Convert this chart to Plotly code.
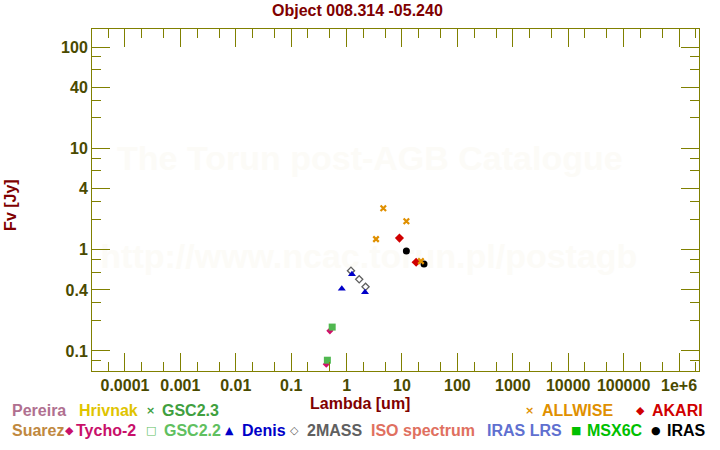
import plotly.graph_objects as go

title_text = "Object 008.314 -05.240"

# Photometry (wavelength in um, flux in Jy)
tycho_wl = [0.43, 0.50]
tycho_f = [0.074, 0.158]
gsc22_wl = [0.45, 0.55]
gsc22_f = [0.081, 0.172]
mass2_wl = [1.2, 1.69, 2.2]
mass2_f = [0.62, 0.51, 0.43]
denis_wl = [0.82, 1.25, 2.15]
denis_f = [0.41, 0.57, 0.38]
iras_wl = [12, 25]
iras_f = [0.97, 0.72]
akari_wl = [9, 18]
akari_f = [1.30, 0.75]
allwise_wl = [3.4, 4.6, 12, 22]
allwise_f = [1.27, 2.56, 1.91, 0.77]

x_major = [1e-4, 1e-3, 1e-2, 1e-1, 1, 10, 100, 1e3, 1e4, 1e5, 1e6]
x_major_text = ["0.0001", "0.001", "0.01", "0.1", "1", "10", "100", "1000",
                "10000", "100000", "1e+6"]
x_minor = [m * 10.0 ** k for k in range(-5, 7) for m in (2, 5)]
y_major = [0.1, 0.4, 1, 4, 10, 40, 100]
y_major_text = ["0.1", "0.4", "1", "4", "10", "40", "100"]
y_minor = [m * 10.0 ** k for k in range(-2, 3) for m in (2, 3, 6, 8)]

watermark_lines = ["The Torun post-AGB Catalogue", "http://www.ncac.torun.pl/postagb"]

FONT = "Liberation Sans, Arial, sans-serif"
AXC = "#808000"
TICKC = "#4a4a00"
DARKRED = "#800000"

XR = [-4.595, 6.361]
YR = [-1.198, 2.178]

# plot area in pixels
L, R, T, B = 92, 699.3, 29.3, 371
W, H = 720, 450


def P(px, py):
    return (px - L) / (R - L), (B - py) / (B - T)


def D(px, py):
    fx, fy = P(px, py)
    return (10 ** (XR[0] + fx * (XR[1] - XR[0])),
            10 ** (YR[0] + fy * (YR[1] - YR[0])))


fig = go.Figure()

# watermark drawn underneath the data
wm_pos = [D(370, 162), D(369, 260)]
fig.add_trace(go.Scatter(
    x=[p[0] for p in wm_pos], y=[p[1] for p in wm_pos], mode="text",
    text=watermark_lines, textposition="middle center",
    textfont=dict(family=FONT, size=34, color="#fcfbf7", weight="bold"),
    showlegend=False, hoverinfo="skip", cliponaxis=False))

series = [
    (tycho_wl, tycho_f, dict(symbol="diamond", size=5.5, color="#d0106a")),
    (gsc22_wl, gsc22_f, dict(symbol="square", size=7, color="#50b850")),
    (mass2_wl, mass2_f, dict(symbol="diamond-open", size=5.5, color="#606060",
                             line=dict(width=1.3, color="#606060"))),
    (denis_wl, denis_f, dict(symbol="triangle-up", size=7, color="#0000c8")),
    (iras_wl, iras_f, dict(symbol="circle", size=7, color="#000000")),
    (akari_wl, akari_f, dict(symbol="diamond", size=7, color="#d00000")),
    (allwise_wl, allwise_f, dict(symbol="x-thin-open", size=5.5, color="#e09000",
                                 line=dict(width=2.2, color="#e09000"))),
]
for xs, ys, mk in series:
    fig.add_trace(go.Scatter(x=xs, y=ys, mode="markers", marker=mk,
                             showlegend=False, hoverinfo="skip"))

ann = []
# title and axis titles
x, y = P(358, 11)
ann.append(dict(x=x, y=y, xref="paper", yref="paper", text=title_text,
                showarrow=False, xanchor="center", yanchor="middle",
                font=dict(family=FONT, size=16, color=DARKRED, weight="bold")))
x, y = P(360, 403)
ann.append(dict(x=x, y=y, xref="paper", yref="paper", text="Lambda [um]",
                showarrow=False, xanchor="center", yanchor="middle",
                font=dict(family=FONT, size=16, color=DARKRED, weight="bold")))
x, y = P(11, 205)
ann.append(dict(x=x, y=y, xref="paper", yref="paper", text="Fv [Jy]",
                showarrow=False, xanchor="center", yanchor="middle", textangle=-90,
                font=dict(family=FONT, size=16, color=DARKRED, weight="bold")))

# legend: (symbol, symbol_x, label, label_x, y, color)
legend_items = [
    ("", 0, "Pereira", 10, 410, "#b07090"),
    ("", 0, "Hrivnak", 77, 410, "#e0c400"),
    ("×", 151, "GSC2.3", 160, 410, "#40a040"),
    ("×", 530, "ALLWISE", 540, 410, "#e09000"),
    ("◆", 641, "AKARI", 650, 410, "#d00000"),
    ("", 0, "Suarez", 10, 430, "#c08840"),
    ("◆", 69, "Tycho-2", 74, 430, "#c8106a"),
    ("□", 151, "GSC2.2", 162, 430, "#60c060"),
    ("▲", 230, "Denis", 240, 430, "#0000c8"),
    ("◇", 295, "2MASS", 305, 430, "#606060"),
    ("", 0, "ISO spectrum", 369, 430, "#e07060"),
    ("", 0, "IRAS LRS", 485, 430, "#6070d0"),
    ("■", 576, "MSX6C", 585, 430, "#00c000"),
    ("●", 656, "IRAS", 665, 430, "#000000"),
]
for sym, sx, lab, lx, ly, col in legend_items:
    if sym:
        x, y = P(sx, ly)
        ann.append(dict(x=x, y=y, xref="paper", yref="paper", text="<b>" + sym + "</b>",
                        showarrow=False, xanchor="center", yanchor="middle",
                        font=dict(family="DejaVu Sans", size=11, color=col)))
    x, y = P(lx, ly)
    ann.append(dict(x=x, y=y, xref="paper", yref="paper", text=lab,
                    showarrow=False, xanchor="left", yanchor="middle",
                    font=dict(family=FONT, size=16, color=col, weight="bold")))

axis_common = dict(
    type="log", showgrid=False, zeroline=False,
    showline=True, linecolor=AXC, linewidth=1, mirror="ticks",
    ticks="inside", ticklen=18, tickwidth=1, tickcolor=AXC,
    tickmode="array",
    tickfont=dict(family=FONT, size=16, color=TICKC, weight="bold"),
)

fig.update_layout(
    width=W, height=H,
    margin=dict(l=L, r=W - R, t=T, b=H - B, pad=0),
    paper_bgcolor="white", plot_bgcolor="white",
    xaxis=dict(axis_common, range=XR, tickvals=x_major,
               ticktext=x_major_text,
               minor=dict(tickmode="array", tickvals=x_minor, ticks="inside",
                          ticklen=9, tickwidth=1, tickcolor=AXC, showgrid=False)),
    yaxis=dict(axis_common, range=YR, tickvals=y_major,
               ticktext=y_major_text,
               minor=dict(tickmode="array", tickvals=y_minor, ticks="inside",
                          ticklen=9, tickwidth=1, tickcolor=AXC, showgrid=False)),
    annotations=ann,
    showlegend=False,
)

fig.write_html("out.html")
